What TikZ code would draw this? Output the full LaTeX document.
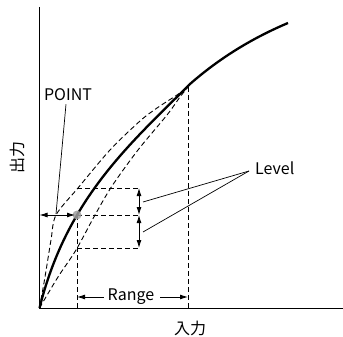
\documentclass[tikz,border=0pt]{standalone}
\usepackage{fontspec}
\setmainfont{Noto Sans CJK JP}
\usetikzlibrary{arrows.meta}
\begin{document}
\begin{tikzpicture}
[x=1pt,y=-1pt,font=\fontsize{16}{19}\selectfont,
 every node/.style={inner sep=0pt},
 guide/.style={dash pattern=on 5pt off 3pt, line width=.9pt},
 twotip/.style={{Latex[length=8pt,width=5pt]}-{Latex[length=8pt,width=5pt]}},
 onetip/.style={-{Latex[length=8pt,width=5pt]}},
 leader/.style={line width=.7pt}]
\useasboundingbox (0,0) rectangle (343,337);
\def \lx {139} % x of the level arrows
\coordinate (O) at (39.5,308);
\coordinate (ytop) at (39.5,7);
\coordinate (xend) at (343,308);
\coordinate (P) at (77,215);
\coordinate (K) at (188,87);
% axes
\draw[line width=1pt] (ytop) -- (O) -- (xend);
% dashed curves
\draw[guide] plot[smooth, tension=.5] coordinates {(39.5,308) (45,277) (51,240) (56,215) (78,188) (110,150) (140,121) (157,108) (177,95) (188,87)};
\draw[guide] plot[smooth, tension=.5] coordinates {(39.5,308) (58,277) (76,250) (95,215) (112,186) (138,150) (167,115) (180,97) (188,87)};
% level lines
\foreach \y in {188,215,248}
{
  \draw[guide] (P |- 0,\y) -- (\lx,\y);
}
\draw[guide] (P) -- (P |- O);
\draw[guide] (K) -- (K |- O);
% main curve
\draw[line width=2.3pt] (O) .. controls (67,198) and (130,144) .. (190,84)
  .. controls (222,56) and (255,37) .. (288,23);
\fill[gray!75, opacity=.85] (P) circle (4.5pt);
% arrows
\draw[twotip, line width=.9pt] (O |- P) -- ([xshift=-2pt]P);
\draw[twotip, line width=.9pt] (\lx,188) -- (\lx,215);
\draw[twotip, line width=.9pt] (\lx,215) -- (\lx,248);
\node (range) at (131,297) {Range};
\draw[onetip, line width=.9pt] ([xshift=-4pt]range.west) -- (P |- range);
\draw[onetip, line width=.9pt] ([xshift=6pt]range.east) -- (K |- range);
% labels
\node (point) at (68,95) {POINT};
\draw[leader] ([xshift=-2pt,yshift=-3pt]point.south) -- (56,214);
\node[anchor=west] (level) at (255,168) {Level};
\coordinate (lv) at ([xshift=-6pt,yshift=-3pt]level.west);
\draw[leader] (lv) -- (143,202);
\draw[leader] (lv) -- (143,232);
\node[rotate=90] (ylab) at (17,157) {出力};
\node (xlab) at (190,328) {入力};
\end{tikzpicture}
\end{document}
